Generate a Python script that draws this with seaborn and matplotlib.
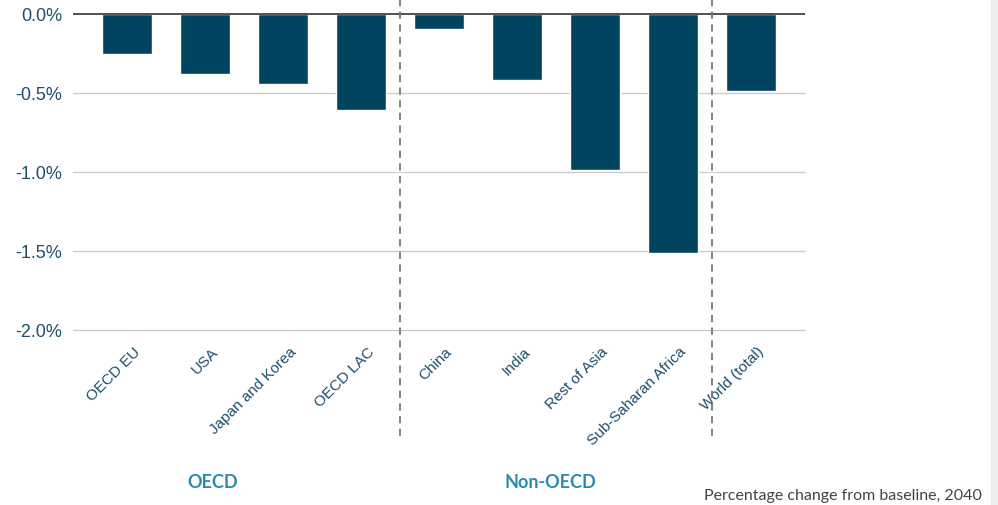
import numpy as np
import pandas as pd
import matplotlib
matplotlib.use('Agg')
import matplotlib.pyplot as plt
import seaborn as sns
from matplotlib.ticker import FuncFormatter
from matplotlib.transforms import ScaledTranslation

regions = ['OECD EU', 'USA', 'Japan and Korea', 'OECD LAC', 'China', 'India',
           'Rest of Asia', 'Sub-Saharan Africa', 'World (total)']
values = [-0.25, -0.38, -0.44, -0.61, -0.095, -0.42, -0.99, -1.51, -0.49]
y_ticks = [0.0, -0.5, -1.0, -1.5, -2.0]
group_labels = ['OECD', 'Non-OECD']

bar_col = '#00445f'
tick_col = '#1d4f6e'
group_col = '#2b8ab0'

sns.set_style('white')
plt.rcParams['font.family'] = ['Liberation Sans', 'DejaVu Sans']

d = pd.DataFrame({'region': regions, 'value': values})

W, H = 998, 506
fig = plt.figure(figsize=(W / 100, H / 100), dpi=100)
# axes in pixel terms: left 73, right 805, top 0, bottom 331
ax = fig.add_axes([73 / W, 1 - 331 / H, (805 - 73) / W, 331 / H])

sns.barplot(data=d, x='region', y='value', color=bar_col, width=0.64,
            saturation=1, ax=ax, zorder=3)

ax.set_xlim(-0.69, 8.69)
ytop = 15 / 158
ax.set_ylim(-2.0, ytop)
ax.set_yticks(y_ticks)
ax.yaxis.set_major_formatter(FuncFormatter(lambda v, p: f'{v:.1f}%'))
ax.tick_params(axis='y', length=0, labelsize=13, labelcolor=tick_col, pad=8)
ax.tick_params(axis='x', length=0, labelsize=11, labelcolor=tick_col, pad=2)
for y in y_ticks[1:]:
    ax.axhline(y, color='#cccccc', lw=1, zorder=1, clip_on=False)
ax.axhline(0, color='#333333', lw=1.2, zorder=4)

ax.set_xticks(range(len(regions)))
ax.set_xticklabels(regions, rotation=45, ha='right', rotation_mode='anchor')
shift = ScaledTranslation(6 / 100, -11 / 100, fig.dpi_scale_trans)
for lbl in ax.get_xticklabels():
    lbl.set_transform(lbl.get_transform() + shift)

ax.set_xlabel('')
ax.set_ylabel('')
for s in ax.spines.values():
    s.set_visible(False)

# group separators
ybot = -(440 - 15) / 158
for xs in [3.5, 7.5]:
    ax.plot([xs, xs], [ytop, ybot], ls=(0, (4, 3)), color='#777777', lw=1.3,
            clip_on=False, zorder=5)

fig.text(213 / W, 1 - 483 / H, group_labels[0], color=group_col, fontsize=13,
         fontweight='bold', ha='center', va='center', family='Lato')
fig.text(550 / W, 1 - 483 / H, group_labels[1], color=group_col, fontsize=13,
         fontweight='bold', ha='center', va='center', family='Lato')
fig.text(982 / W, 1 - 496 / H, 'Percentage change from baseline, 2040', color='#444444',
         fontsize=11.5, ha='right', va='center', family='Lato')

fig.patches.append(plt.Rectangle((991 / W, 0), 7 / W, 1, transform=fig.transFigure,
                                 color='#eeeeee', zorder=0))

fig.savefig('out.png', dpi=100)
